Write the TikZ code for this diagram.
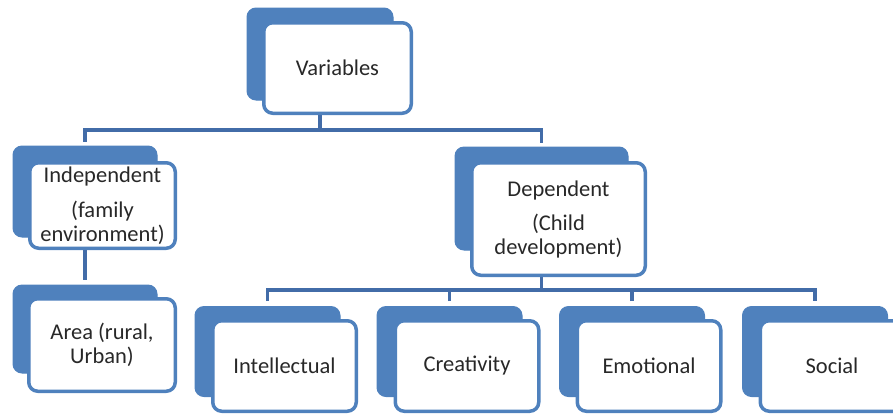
\documentclass[tikz,border=0pt]{standalone}
\usepackage{fontspec}
\setmainfont{Carlito}
\usetikzlibrary{positioning}
\definecolor{boxblue}{RGB}{79,129,189}
\definecolor{linkblue}{RGB}{66,108,168}
\definecolor{textgray}{RGB}{40,40,40}

\begin{document}
\begin{tikzpicture}[x=1pt,y=1pt,
    back/.style={draw=boxblue, fill=boxblue, rounded corners=9pt, line width=1pt, inner sep=0pt},
    front/.style={draw=boxblue, fill=white, rounded corners=9pt, line width=3.5pt, inner sep=0pt,
                  align=center, text=textgray, font=\fontsize{22.5}{24}\selectfont},
    link/.style={draw=linkblue, line width=3.2pt}]
    \useasboundingbox (0,0) rectangle (893,-416);
    % blue boxes behind
    \node[back, minimum width=146pt, minimum height=92pt] (varb) at (320,-54) {};
    \node[back, minimum width=144pt, minimum height=91pt] (indb) at (85,-191.5) {};
    \node[back, minimum width=144pt, minimum height=88pt] (areab) at (85,-329) {};
    \node[back, minimum width=173pt, minimum height=103pt] (depb) at (541.5,-198.5) {};
    \foreach \n/\x in {int/267.5, cre/449.5, emo/632, soc/815}
        \node[back, minimum width=145pt, minimum height=90pt] (\n b) at (\x,-351.5) {};
    % connectors
    \coordinate (split1) at (320,-130);
    \coordinate (split2) at (541.5,-290);
    \draw[link] (varb) -- (split1);
    \draw[link] ([yshift=4pt]indb.north) |- (split1) -| ([yshift=4pt]depb.north);
    \draw[link] (indb) -- ([yshift=5pt]areab.north);
    \draw[link] (depb) -- (split2);
    \draw[link] ([yshift=5pt]intb.north) |- (split2) -| ([yshift=5pt]socb.north);
    \draw[link] ([yshift=5pt]creb.north) -- (creb.north |- split2);
    \draw[link] ([yshift=5pt]emob.north) -- (emob.north |- split2);
    % white boxes in front
    \node[front, minimum width=147.5pt, minimum height=90.5pt] (var) at (337.5,-68) {Variables};
    \node[front, minimum width=145.5pt, minimum height=85.5pt] (ind) at (102.5,-205.5)
        {Independent\\[11pt](family\\environment)};
    \node[front, minimum width=146.5pt, minimum height=92.5pt] (area) at (102,-345)
        {Area (rural,\\Urban)};
    \node[front, minimum width=173.5pt, minimum height=112.5pt] (dep) at (558.5,-219)
        {Dependent\\[10pt](Child\\development)};
    \foreach \n/\x/\t in {int/284.5/Intellectual, cre/467/Creativity, emo/649/Emotional, soc/832/Social}
        \node[front, minimum width=143.5pt, minimum height=90.5pt] (\n) at (\x,-366) {\t};
\end{tikzpicture}
\end{document}
